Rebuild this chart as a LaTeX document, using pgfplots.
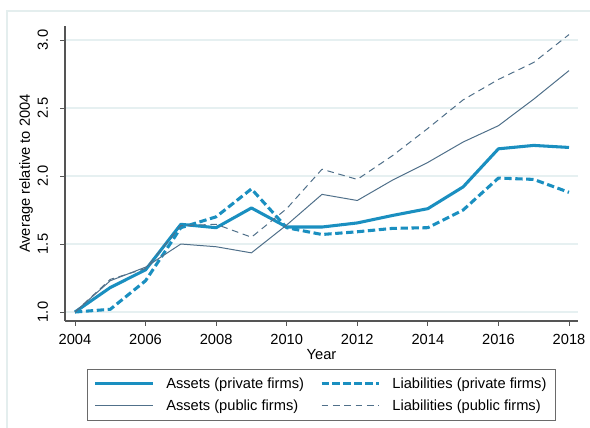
\documentclass[border=0pt]{standalone}
\usepackage{pgfplots}
\pgfplotsset{compat=1.18}
\usepackage{fontspec}
\setmainfont{Liberation Sans}
\definecolor{stblue}{HTML}{1A8FC0}
\definecolor{stslate}{HTML}{50708A}
\definecolor{gridc}{HTML}{E6F0F1}
\definecolor{framec}{HTML}{E4EEEE}
\definecolor{axc}{HTML}{555555}
\definecolor{legc}{HTML}{6A6A6A}
\begin{document}
\begin{tikzpicture}
\useasboundingbox (-48.75pt,-80.25pt) rectangle (393.75pt,240.75pt);
\draw[framec, line width=0.8pt] (-43.5pt,-90pt) -- (-43.5pt,232.5pt) -- (400pt,232.5pt);
\begin{axis}[
  at={(0pt,0pt)}, anchor=south west,
  scale only axis, width=384.75pt, height=221.25pt,
  xmin=2003.717, xmax=2018.255, ymin=0.934, ymax=3.103,
  axis x line*=bottom, axis y line*=left,
  axis line style={axc, line width=0.8pt},
  xtick={2004,2006,...,2018},
  ytick={1.0,1.5,2.0,2.5,3.0},
  yticklabels={1.0,1.5,2.0,2.5,3.0},
  xticklabel style={/pgf/number format/1000 sep={}},
  /pgf/number format/assume math mode=true,
  tick align=outside, major tick length=3.5pt,
  tick style={axc, line width=0.7pt},
  ymajorgrids, grid style={gridc, line width=0.8pt},
  ticklabel style={font=\fontsize{11}{13}\selectfont, text=black},
  yticklabel style={rotate=90, anchor=south, inner sep=1pt},
  yticklabel shift=8pt,
  xticklabel style={inner sep=1pt},
  xticklabel shift=5pt,
  xlabel={Year}, ylabel={Average relative to 2004},
  label style={font=\fontsize{11}{13}\selectfont},
  xlabel style={yshift=1pt},
  ylabel style={yshift=-1pt},
  legend columns=2,
  legend cell align=left,
  legend style={at={(0.5,0)}, anchor=north, yshift=-36pt,
    draw=legc, line width=0.9pt, font=\fontsize{11}{13}\selectfont,
    inner xsep=5pt, inner ysep=4pt, row sep=3pt,
    /tikz/every odd column/.append style={column sep=7pt},
    /tikz/every even column/.append style={column sep=10pt}},
  legend image code/.code={\draw[#1] (0pt,0pt) -- (43pt,0pt);},
]
\addplot[stblue, line width=2.3pt, line join=round] coordinates {
(2004,1.00) (2005,1.18) (2006,1.31) (2007,1.645) (2008,1.62) (2009,1.765) (2010,1.625)
(2011,1.625) (2012,1.655) (2013,1.71) (2014,1.76) (2015,1.92) (2016,2.20) (2017,2.225) (2018,2.21)};
\addlegendentry{Assets (private firms)}
\addplot[stblue, line width=2.3pt, line join=round, dash pattern=on 5.5pt off 2.7pt] coordinates {
(2004,1.00) (2005,1.02) (2006,1.23) (2007,1.62) (2008,1.70) (2009,1.905) (2010,1.62)
(2011,1.57) (2012,1.59) (2013,1.615) (2014,1.62) (2015,1.75) (2016,1.985) (2017,1.975) (2018,1.88)};
\addlegendentry{Liabilities (private firms)}
\addplot[stslate, line width=0.75pt, line join=round] coordinates {
(2004,1.00) (2005,1.23) (2006,1.33) (2007,1.50) (2008,1.48) (2009,1.435) (2010,1.64)
(2011,1.865) (2012,1.82) (2013,1.97) (2014,2.10) (2015,2.25) (2016,2.37) (2017,2.565) (2018,2.775)};
\addlegendentry{Assets (public firms)}
\addplot[stslate, line width=0.75pt, line join=round, dash pattern=on 5pt off 3.5pt] coordinates {
(2004,1.00) (2005,1.24) (2006,1.32) (2007,1.635) (2008,1.645) (2009,1.55) (2010,1.76)
(2011,2.05) (2012,1.975) (2013,2.15) (2014,2.35) (2015,2.56) (2016,2.71) (2017,2.835) (2018,3.04)};
\addlegendentry{Liabilities (public firms)}
\end{axis}
\end{tikzpicture}
\end{document}
